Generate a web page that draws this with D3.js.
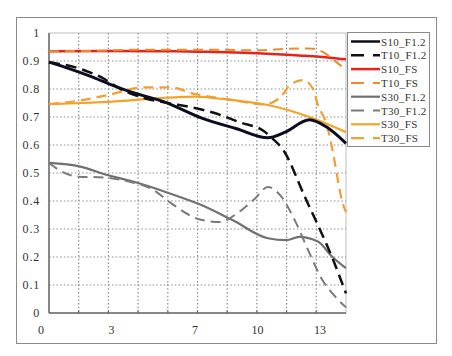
<!DOCTYPE html>
<html>
<head>
<meta charset="utf-8">
<script src="https://cdn.jsdelivr.net/npm/d3@7"></script>
<style>
  html, body { margin: 0; padding: 0; background: #fff; }
  svg { display: block; }
  text { font-family: "Liberation Serif", "DejaVu Serif", serif; fill: #333; }
</style>
</head>
<body>
<svg id="chart" width="452" height="356"></svg>
<script>
// ---------- data ----------
const xTickLabels = [0, 3, 7, 10, 13];
const yTickValues = [0, 0.1, 0.2, 0.3, 0.4, 0.5, 0.6, 0.7, 0.8, 0.9, 1];
const seriesNames = ["S10_F1.2", "T10_F1.2", "S10_FS", "T10_FS", "S30_F1.2", "T30_F1.2", "S30_FS", "T30_FS"];

const S10_F12 = [[0,0.896],[1,0.872],[2,0.845],[3,0.815],[4,0.788],[5.5,0.755],[7.3,0.697],[9,0.658],[10.5,0.626],[11.3,0.645],[12.5,0.69],[13.3,0.665],[14.25,0.606]];
const T10_F12 = [[0,0.896],[1.5,0.872],[2.5,0.842],[3.5,0.797],[4.6,0.767],[5.7,0.75],[6.8,0.735],[7.9,0.715],[9.2,0.68],[10.3,0.65],[10.7,0.625],[11.24,0.582],[12.28,0.414],[13.63,0.19],[14.25,0.07]];
const S10_FS = [[0,0.935],[3,0.936],[6,0.935],[8,0.932],[10,0.928],[12,0.92],[13.5,0.912],[14.25,0.906]];
const T10_FS = [[0,0.935],[2,0.936],[4,0.94],[8,0.94],[10,0.938],[11.5,0.944],[12.5,0.945],[13.2,0.93],[13.8,0.895],[14.25,0.87]];
const S30_F12 = [[0,0.536],[1.5,0.523],[2.8,0.493],[4.2,0.466],[5.8,0.427],[7.2,0.389],[8.8,0.332],[10.5,0.267],[11.4,0.26],[12.0,0.272],[12.9,0.255],[13.6,0.2],[14.25,0.16]];
const T30_F12 = [[0,0.536],[0.5,0.51],[1.4,0.487],[2.6,0.484],[3.8,0.47],[5,0.44],[5.9,0.39],[7.2,0.335],[8.2,0.325],[9.1,0.36],[9.9,0.41],[10.5,0.45],[11.1,0.42],[11.8,0.33],[12.4,0.23],[13.1,0.12],[13.6,0.07],[14.25,0.02]];
const S30_FS = [[0,0.746],[1.6,0.75],[3.2,0.756],[4.8,0.765],[7,0.773],[8.8,0.76],[10.5,0.743],[12.5,0.70],[14.25,0.646]];
const T30_FS = [[0,0.746],[1.4,0.758],[2.8,0.778],[4.6,0.806],[5.8,0.806],[7,0.782],[8.7,0.762],[10.3,0.745],[11.1,0.77],[11.56,0.814],[12.19,0.832],[12.67,0.80],[12.9,0.743],[13.34,0.67],[13.58,0.59],[14.1,0.39],[14.25,0.36]];

const seriesData = [S10_F12, T10_F12, S10_FS, T10_FS, S30_F12, T30_F12, S30_FS, T30_FS];
const seriesColors = ["#0c0c22", "#111111", "#e3241c", "#ef8a2a", "#707070", "#7a7a7a", "#f3a22a", "#efa030"];
const seriesDash = [null, "11,6", null, "10,6", null, "10,6", null, "10,6"];
const seriesWidth = [3, 2.5, 2.5, 2, 2.2, 2, 2.2, 2.2];

// ---------- layout ----------
const svg = d3.select("#chart");
const plot = { left: 49, top: 33, right: 346, bottom: 313 };
const x = d3.scaleLinear().domain([0, 14.25]).range([plot.left, plot.right]);
const y = d3.scaleLinear().domain([0, 1]).range([plot.bottom, plot.top]);

// outer frame
svg.append("rect").attr("x", 16.5).attr("y", 17.5).attr("width", 420).attr("height", 326)
  .attr("fill", "#fff").attr("stroke", "#8a8a8a").attr("stroke-width", 1);

// plot border (light)
svg.append("rect").attr("x", plot.left).attr("y", plot.top)
  .attr("width", plot.right - plot.left).attr("height", plot.bottom - plot.top)
  .attr("fill", "none").attr("stroke", "#bdbdbd").attr("stroke-width", 1);

// grid
const gridX = d3.range(1, 10).map(i => x.domain()[1] * i / 10);
svg.append("g").selectAll("line").data(gridX).join("line")
  .attr("x1", d => x(d)).attr("x2", d => x(d))
  .attr("y1", plot.top).attr("y2", plot.bottom)
  .attr("stroke", "#8c8c8c").attr("stroke-width", 1.2).attr("stroke-dasharray", "1.5,2.2");
svg.append("g").selectAll("line").data(yTickValues.filter(v => v > 0 && v < 1)).join("line")
  .attr("x1", plot.left).attr("x2", plot.right)
  .attr("y1", d => y(d)).attr("y2", d => y(d))
  .attr("stroke", "#8c8c8c").attr("stroke-width", 1.2).attr("stroke-dasharray", "1.5,2.2");

// axes lines
svg.append("line").attr("x1", plot.left).attr("x2", plot.left).attr("y1", plot.top).attr("y2", plot.bottom)
  .attr("stroke", "#6a6a6a").attr("stroke-width", 1.5);
svg.append("line").attr("x1", plot.left).attr("x2", plot.right).attr("y1", plot.bottom).attr("y2", plot.bottom)
  .attr("stroke", "#6a6a6a").attr("stroke-width", 1.5);

// tick marks on x axis
svg.append("g").selectAll("line").data(gridX).join("line")
  .attr("x1", d => x(d)).attr("x2", d => x(d))
  .attr("y1", plot.bottom - 3).attr("y2", plot.bottom + 1)
  .attr("stroke", "#6a6a6a").attr("stroke-width", 1);

// y tick labels
const yFmt = d3.format("~g");
svg.append("g").selectAll("text").data(yTickValues).join("text")
  .attr("x", 40).attr("y", d => y(d) + 4)
  .attr("text-anchor", "end").attr("font-size", 12).attr("letter-spacing", 0.8)
  .text(d => yFmt(d));

// x tick labels
svg.append("g").selectAll("text").data(xTickLabels).join("text")
  .attr("x", d => x(d) - (d === 0 ? 8 : 0)).attr("y", 334)
  .attr("text-anchor", "middle").attr("font-size", 12)
  .text(d => d);

// series
const line = d3.line().x(d => x(d[0])).y(d => y(d[1])).curve(d3.curveMonotoneX);
const order = [6, 7, 2, 3, 4, 5, 0, 1];
svg.append("g").selectAll("path").data(order).join("path")
  .attr("d", i => line(seriesData[i]))
  .attr("fill", "none")
  .attr("stroke", i => seriesColors[i])
  .attr("stroke-width", i => seriesWidth[i])
  .attr("stroke-dasharray", i => seriesDash[i])
  .attr("stroke-linejoin", "round");

// legend
const lg = svg.append("g");
lg.append("rect").attr("x", 347.5).attr("y", 32.5).attr("width", 82).attr("height", 114)
  .attr("fill", "#fff").attr("stroke", "#8a8a8a").attr("stroke-width", 1);
const rows = lg.selectAll("g.row").data(seriesNames).join("g")
  .attr("transform", (d, i) => `translate(0,${41.5 + i * 13.8})`);
rows.append("line").attr("x1", 351).attr("x2", 380).attr("y1", 0).attr("y2", 0)
  .attr("stroke", (d, i) => seriesColors[i])
  .attr("stroke-width", (d, i) => Math.min(seriesWidth[i], 2.5))
  .attr("stroke-dasharray", (d, i) => seriesDash[i] ? "13,9" : null);
rows.append("text").attr("x", 381).attr("y", 4).attr("font-size", 11).attr("letter-spacing", 0.3)
  .text(d => d);
</script>
</body>
</html>
